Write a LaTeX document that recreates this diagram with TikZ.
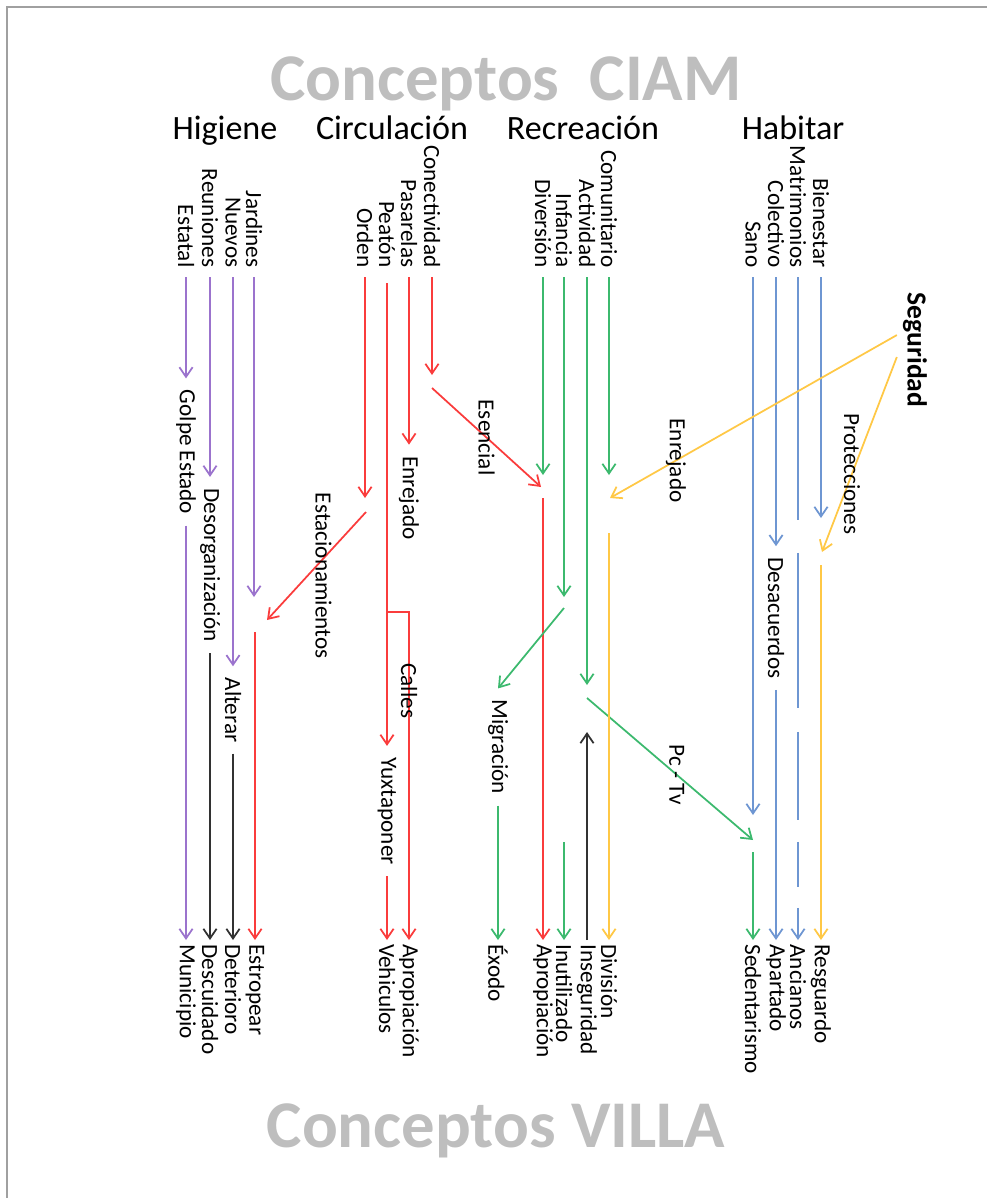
\documentclass[tikz,border=0pt]{standalone}
\usepackage{fontspec}
\setmainfont{Carlito}
\usepackage{tikz}
\usetikzlibrary{arrows.meta}

\definecolor{morado}{RGB}{155,115,205}
\definecolor{rojo}{RGB}{250,60,60}
\definecolor{verde}{RGB}{60,185,110}
\definecolor{amarillo}{RGB}{255,200,70}
\definecolor{azul}{RGB}{110,150,210}
\definecolor{negro}{RGB}{50,50,50}
\definecolor{grisTitulo}{RGB}{190,190,190}
\definecolor{grisMarco}{RGB}{160,160,160}

\tikzset{
	concepto/.style = {rotate = -90, text = black, font = \fontsize{13.2}{16}\selectfont, inner ysep = 0pt},
	ciam/.style = {concepto, anchor = east, inner xsep = 5pt},
	villa/.style = {concepto, anchor = west, inner xsep = 2pt},
	medio/.style = {concepto, inner xsep = 6pt},
	etiqueta/.style = {concepto, inner sep = 0pt},
	seguro/.style = {rotate = -90, text = black, font = \bfseries\fontsize{15.7}{18}\selectfont, inner sep = 0pt},
	grupo/.style = {anchor = base, font = \fontsize{19.4}{23}\selectfont},
	titulo/.style = {anchor = base, text = grisTitulo, font = \bfseries\fontsize{38}{44}\selectfont}
}

\begin{document}
\begin{tikzpicture}[x = 0.02cm, y = -0.02cm, line width = 1pt, >={Straight Barb[length = 5.5pt, width = 7.5pt]}]
	%marco
	\useasboundingbox (0,0) rectangle (987,1198);
	\draw[grisMarco, line width = 1.2pt] (7,1230) -- (7,7) -- (1020,7);
	%titulos
	\node[titulo] (tituloCiam) at (506,100) {Conceptos\ \ CIAM};
	\node[titulo] (tituloVilla) at (496,1147) {Conceptos VILLA};
	\node[grupo] (higiene) at (225,139) {Higiene};
	\node[grupo] (circulacion) at (392,139) {Circulación};
	\node[grupo] (recreacion) at (583,139) {Recreación};
	\node[grupo] (habitar) at (793,139) {Habitar};

	%higiene
	\node[ciam] (estatal) at (186,277) {Estatal};
	\node[ciam] (reuniones) at (210,277) {Reuniones};
	\node[ciam] (nuevos) at (233,277) {Nuevos};
	\node[ciam] (jardines) at (254,277) {Jardines};
	\node[medio] (golpe) at (186,452) {Golpe Estado};
	\node[medio] (desorganizacion) at (210,565) {Desorganización};
	\node[medio] (alterar) at (233,710) {Alterar};
	\node[villa] (municipio) at (186,940) {Municipio};
	\node[villa] (descuidado) at (210,940) {Descuidado};
	\node[villa] (deterioro) at (233,940) {Deterioro};
	\node[villa] (estropear) at (255,940) {Estropear};
	\coordinate (jardinesFin) at (254,597);
	\coordinate (estropearIni) at (255,632);
	\draw[->, morado] (estatal) -- (golpe);
	\draw[->, morado] (golpe) -- (municipio);
	\draw[->, morado] (reuniones) -- (desorganizacion);
	\draw[->, negro] (desorganizacion) -- (descuidado);
	\draw[->, morado] (nuevos) -- (alterar);
	\draw[->, negro] (alterar) -- (deterioro);
	\draw[->, morado] (jardines) -- (jardinesFin);
	\draw[->, rojo] (estropearIni) -- (estropear);

	%circulacion
	\node[ciam] (orden) at (365,277) {Orden};
	\node[ciam] (peaton) at (387,277) {Peatón};
	\node[ciam] (pasarelas) at (409,277) {Pasarelas};
	\node[ciam] (conectividad) at (432,277) {Conectividad};
	\node[medio] (enrejadoCirc) at (409,498) {Enrejado};
	\node[medio] (yuxtaponer) at (387,811) {Yuxtaponer};
	\node[villa] (vehiculos) at (387,940) {Vehiculos};
	\node[villa] (apropiacionCirc) at (409,940) {Apropiación};
	\coordinate (ordenFin) at (365,498);
	\coordinate (ordenSal) at (366,512);
	\coordinate (estacionFin) at (267,620);
	\coordinate (conectFin) at (432,375);
	\coordinate (esencialIni) at (432,388);
	\coordinate (esencialFin) at (541,487);
	\coordinate (ramal) at (387,612);
	\draw[->, rojo] (orden) -- (ordenFin);
	\draw[->, rojo] (ordenSal) -- node[etiqueta, pos = .59, anchor = south, inner ysep = 4pt] (lblEstacion) {Estacionamientos} (estacionFin);
	\draw[->, rojo, shorten <= 0.12cm] (peaton) -- (yuxtaponer);
	\draw[->, rojo] (yuxtaponer) -- (vehiculos);
	\draw[->, rojo] (ramal) -| node[etiqueta, pos = .62] (lblCalles) {Calles} (apropiacionCirc);
	\draw[->, rojo] (pasarelas) -- (enrejadoCirc);
	\draw[->, rojo] (conectividad) -- (conectFin);
	\draw[->, rojo] (esencialIni) -- node[etiqueta, pos = .5] (lblEsencial) {Esencial} (esencialFin);

	%recreacion
	\node[ciam] (diversion) at (543,277) {Diversión};
	\node[ciam] (infancia) at (564,277) {Infancia};
	\node[ciam] (actividad) at (587,277) {Actividad};
	\node[ciam] (comunitario) at (609,277) {Comunitario};
	\node[medio] (migracion) at (498,747) {Migración};
	\node[villa] (exodo) at (498,940) {Éxodo};
	\node[villa] (apropiacionRec) at (543,940) {Apropiación};
	\node[villa] (inutilizado) at (564,940) {Inutilizado};
	\node[villa] (inseguridad) at (587,940) {Inseguridad};
	\node[villa] (division) at (609,940) {División};
	\coordinate (diversionFin) at (543,475);
	\coordinate (apropiacionIni) at (543,498);
	\coordinate (infanciaFin) at (564,597);
	\coordinate (migracionIni) at (564,608);
	\coordinate (inutilizadoIni) at (564,842);
	\coordinate (actividadFin) at (587,685);
	\coordinate (pcIni) at (587,698);
	\coordinate (pcFin) at (753,840);
	\coordinate (inseguridadFin) at (587,732);
	\coordinate (comunitarioFin) at (609,475);
	\coordinate (enrejadoFin) at (610,498);
	\coordinate (divisionIni) at (609,533);
	\draw[->, verde] (diversion) -- (diversionFin);
	\draw[->, rojo] (apropiacionIni) -- (apropiacionRec);
	\draw[->, verde] (infancia) -- (infanciaFin);
	\draw[->, verde] (migracionIni) -- (migracion.west);
	\draw[->, verde] (migracion) -- (exodo);
	\draw[->, verde] (inutilizadoIni) -- (inutilizado);
	\draw[->, verde] (actividad) -- (actividadFin);
	\draw[->, verde] (pcIni) -- node[etiqueta, pos = .54] (lblPcTv) {Pc - Tv} (pcFin);
	\draw[->, negro] (inseguridad) -- (inseguridadFin);
	\draw[->, verde] (comunitario) -- (comunitarioFin);
	\draw[->, amarillo] (divisionIni) -- (division);

	%habitar
	\node[ciam] (sano) at (753,277) {Sano};
	\node[ciam] (colectivo) at (776,277) {Colectivo};
	\node[ciam] (matrimonios) at (798,277) {Matrimonios};
	\node[ciam] (bienestar) at (821,277) {Bienestar};
	\node[medio] (desacuerdos) at (776,618) {Desacuerdos};
	\node[villa] (sedentarismo) at (753,940) {Sedentarismo};
	\node[villa] (apartado) at (776,940) {Apartado};
	\node[villa] (ancianos) at (798,940) {Ancianos};
	\node[villa] (resguardo) at (821,940) {Resguardo};
	\node[seguro] (seguridad) at (915,350) {Seguridad};
	\coordinate (sanoFin) at (753,815);
	\coordinate (sedentarismoIni) at (753,852);
	\coordinate (bienestarFin) at (821,518);
	\coordinate (proteccionesFin) at (822,552);
	\coordinate (resguardoIni) at (821,565);
	\draw[->, azul] (sano) -- (sanoFin);
	\draw[->, verde] (sedentarismoIni) -- (sedentarismo);
	\draw[->, azul] (colectivo) -- (desacuerdos);
	\draw[->, azul] (desacuerdos) -- (apartado);
	\draw[->, azul, dash pattern = on 4.86cm off 0.66cm on 3.1cm off 0.48cm on 1.76cm off 0.44cm on 0.9cm off 0.42cm on 2cm] (matrimonios) -- (ancianos);
	\draw[->, azul] (bienestar) -- (bienestarFin);
	\draw[->, amarillo] ([xshift = -3pt, yshift = 8.5pt]seguridad.south) -- node[etiqueta, pos = .77] (lblEnrejado) {Enrejado} (enrejadoFin);
	\draw[->, amarillo] ([xshift = -3pt, yshift = -4pt]seguridad.south) -- node[etiqueta, pos = .6] (lblProtecciones) {Protecciones} (proteccionesFin);
	\draw[->, amarillo] (resguardoIni) -- (resguardo);
\end{tikzpicture}
\end{document}
